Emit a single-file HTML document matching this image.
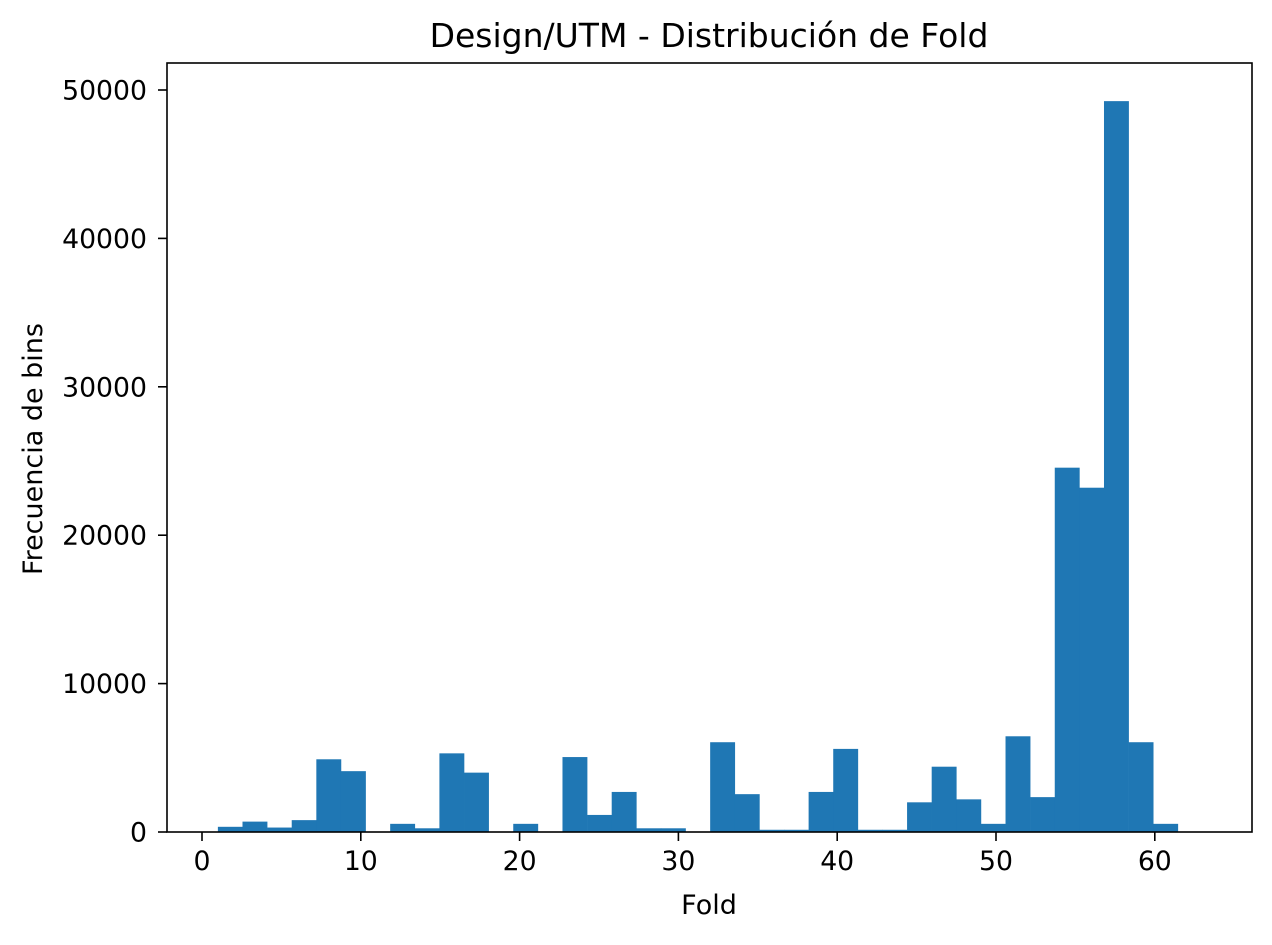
<!DOCTYPE html>
<html><head><meta charset="utf-8">
<style>
body{margin:0;background:#fff;font-family:"Liberation Sans","DejaVu Sans",sans-serif;}
svg text{font-family:"DejaVu Sans","Liberation Sans",sans-serif;fill:#000;}
</style></head>
<body>
<svg id="chart" width="1272" height="940" xmlns="http://www.w3.org/2000/svg">
<rect width="1272" height="940" fill="#fff"/>
<text x="709" y="47" font-size="33" text-anchor="middle">Design/UTM - Distribución de Fold</text>
<g id="bars"></g>
<g id="xticks"></g>
<g id="yticks"></g>
<rect x="167" y="63" width="1085" height="769" fill="none" stroke="#000" stroke-width="1.6"/>
<text x="709" y="914" font-size="27" text-anchor="middle">Fold</text>
<text transform="translate(42,449) rotate(-90)" font-size="27" text-anchor="middle">Frecuencia de bins</text>
</svg>
<script>
const binStart = 1;
const binEnd = 63;
const counts = [350,700,300,800,4900,4100,0,550,250,5300,4000,0,550,0,5050,1150,2700,250,250,0,6050,2550,150,150,2700,5600,150,150,2000,4400,2200,550,6450,2350,24550,23200,49250,6050,550,0];
const xTicks = [0,10,20,30,40,50,60];
const yTicks = [0,10000,20000,30000,40000,50000];

const NS = "http://www.w3.org/2000/svg";
const xs = v => 202 + (v) * 15.88;
const ys = v => 832 - v * (742 / 50000);
const bw = (binEnd - binStart) / counts.length;
const bars = document.getElementById('bars');
counts.forEach((c, i) => {
  if (c <= 0) return;
  const r = document.createElementNS(NS, 'rect');
  const x0 = xs(binStart + i * bw), x1 = xs(binStart + (i + 1) * bw);
  r.setAttribute('x', x0); r.setAttribute('width', x1 - x0 + 0.3);
  r.setAttribute('y', ys(c)); r.setAttribute('height', 832 - ys(c));
  r.setAttribute('fill', '#1f77b4');
  
  
  bars.appendChild(r);
});
const xg = document.getElementById('xticks');
xTicks.forEach(t => {
  const l = document.createElementNS(NS, 'line');
  l.setAttribute('x1', xs(t)); l.setAttribute('x2', xs(t));
  l.setAttribute('y1', 832); l.setAttribute('y2', 841);
  l.setAttribute('stroke', '#000'); l.setAttribute('stroke-width', '1.6');
  
  
  xg.appendChild(l);
  const tx = document.createElementNS(NS, 'text');
  tx.setAttribute('x', xs(t)); tx.setAttribute('y', 870);
  tx.setAttribute('font-size', '26.7'); tx.setAttribute('text-anchor', 'middle');
  tx.textContent = t;
  
  
  xg.appendChild(tx);
});
const yg = document.getElementById('yticks');
yTicks.forEach(t => {
  const l = document.createElementNS(NS, 'line');
  l.setAttribute('x1', 158); l.setAttribute('x2', 167);
  l.setAttribute('y1', ys(t)); l.setAttribute('y2', ys(t));
  l.setAttribute('stroke', '#000'); l.setAttribute('stroke-width', '1.6');
  
  
  yg.appendChild(l);
  const tx = document.createElementNS(NS, 'text');
  tx.setAttribute('x', 147); tx.setAttribute('y', ys(t) + 9.5);
  tx.setAttribute('font-size', '26.7'); tx.setAttribute('text-anchor', 'end');
  tx.textContent = t;
  
  
  yg.appendChild(tx);
});
</script>
</body></html>
